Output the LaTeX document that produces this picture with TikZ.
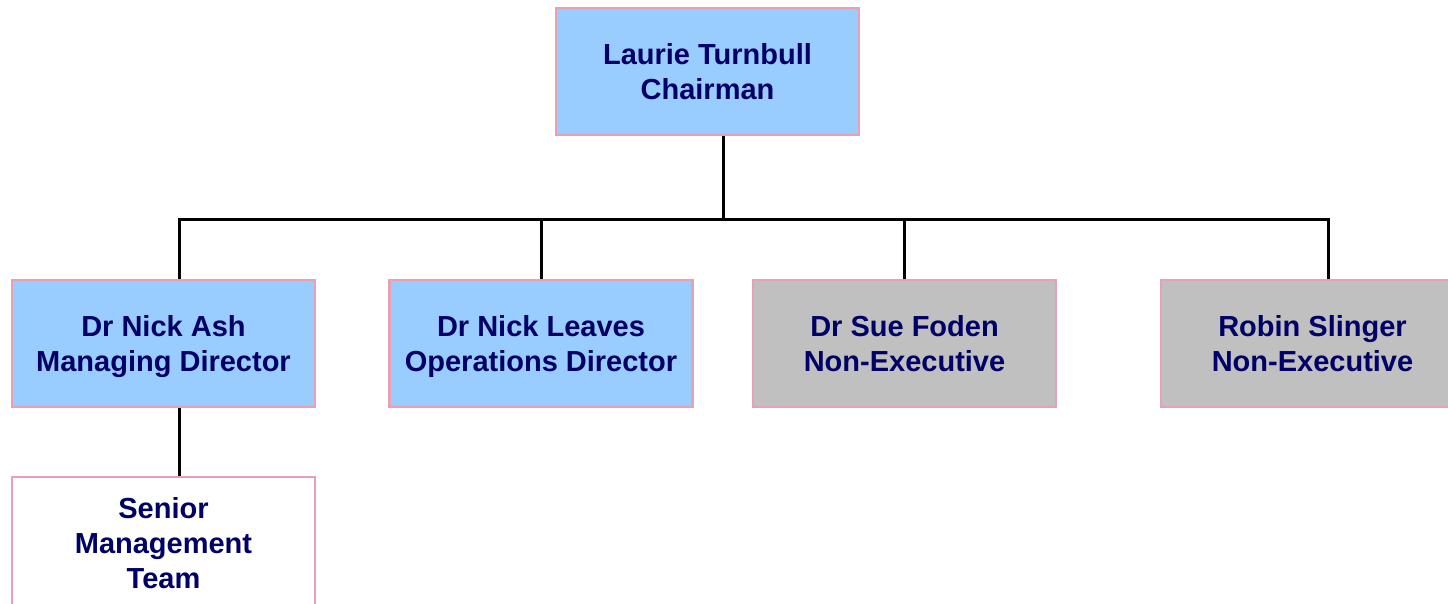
\documentclass[tikz,border=0pt]{standalone}
\usepackage{fontspec}
\setmainfont{Liberation Sans}
\definecolor{boxblue}{HTML}{99CCFF}
\definecolor{boxgrey}{HTML}{C0C0C0}
\definecolor{boxedge}{HTML}{E8A0B2}
\definecolor{navy}{HTML}{000066}
\tikzset{
  orgbox/.style={draw=boxedge, line width=2.2pt, minimum width=303pt, minimum height=127pt,
    inner sep=0pt, align=center, text=navy, text depth=0pt, font=\fontsize{29}{35.5}\selectfont\bfseries},
  blue/.style={orgbox, fill=boxblue},
  grey/.style={orgbox, fill=boxgrey},
  white/.style={orgbox, fill=white},
  link/.style={draw=black, line width=3pt}
}
\begin{document}
\begin{tikzpicture}[x=1pt,y=-1pt]
\useasboundingbox (0,0) rectangle (1448,603);
\clip (0,0) rectangle (1448,603);
\node[blue] (ch) at (707.5,71.5) {Laurie Turnbull\\Chairman};
\node[blue] (md) at (163.5,343.5) {Dr Nick Ash\\Managing Director};
\node[blue] (od) at (541,343.5) {Dr Nick Leaves\\Operations Director};
\node[grey] (sf) at (904.5,343.5) {Dr Sue Foden\\Non-Executive};
\node[grey] (rs) at (1312.5,343.5) {Robin Slinger\\Non-Executive};
\node[white, minimum height=140pt] (smt) at (163.5,547) {};
\node[text=navy, font=\fontsize{29}{35}\selectfont\bfseries, align=center] (smtlabel) at (163.5,543) {Senior\\Management\\Team};
\coordinate (j0) at (723,219);
\coordinate (c1) at (179,219);
\coordinate (c2) at (541,219);
\coordinate (c3) at (904,219);
\coordinate (c4) at (1328,219);
\draw[link] (ch.south -| j0) -- (j0);
\draw[link] (md.north -| c1) -- (c1) -- (c4) -- (rs.north -| c4);
\draw[link] (od.north -| c2) -- (c2);
\draw[link] (sf.north -| c3) -- (c3);
\draw[link] (md.south -| c1) -- (smt.north -| c1);
\end{tikzpicture}
\end{document}
